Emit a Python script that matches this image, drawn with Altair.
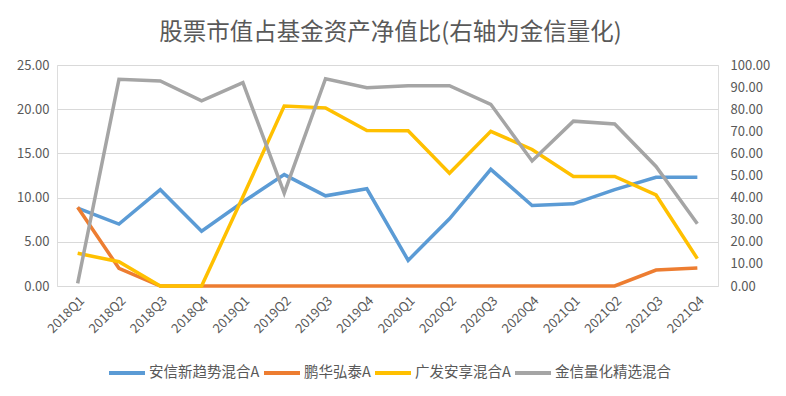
import altair as alt
import pandas as pd

quarters = ["2018Q1", "2018Q2", "2018Q3", "2018Q4", "2019Q1", "2019Q2", "2019Q3", "2019Q4",
            "2020Q1", "2020Q2", "2020Q3", "2020Q4", "2021Q1", "2021Q2", "2021Q3", "2021Q4"]
anxin = [8.8, 7.0, 10.9, 6.2, 9.5, 12.6, 10.2, 11.0, 2.9, 7.6, 13.2, 9.1, 9.3, 10.9, 12.3, 12.3]
penghua = [8.9, 2.0, 0, 0, 0, 0, 0, 0, 0, 0, 0, 0, 0, 0, 1.8, 2.05]
guangfa = [3.7, 2.75, 0, 0, 10.1, 20.35, 20.15, 17.6, 17.55, 12.75, 17.5, 15.45, 12.4, 12.4, 10.3, 3.1]
jinxin = [1.2, 93.5, 92.8, 83.8, 92.0, 42.0, 93.8, 89.7, 90.6, 90.6, 82.2, 56.6, 74.6, 73.3, 54.1, 28.2]

names = ["安信新趋势混合A", "鹏华弘泰A", "广发安享混合A", "金信量化精选混合"]
colors = ["#5B9BD5", "#ED7D31", "#FFC000", "#A5A5A5"]
left_ticks = [0, 5, 10, 15, 20, 25]
right_ticks = [0, 10, 20, 30, 40, 50, 60, 70, 80, 90, 100]

rows = []
for name, vals in zip(names[:3], [anxin, penghua, guangfa]):
    for q, v in zip(quarters, vals):
        rows.append({"quarter": q, "value": v, "series": name})
left_df = pd.DataFrame(rows)
right_df = pd.DataFrame({"quarter": quarters, "value": jinxin, "series": names[3]})

FONT = "Noto Sans CJK SC"
TXT = "#595959"

color = alt.Color(
    "series:N",
    sort=names,
    scale=alt.Scale(domain=names, range=colors),
    legend=alt.Legend(
        title=None, orient="none", legendX=50, legendY=288, direction="horizontal",
        symbolType="stroke", symbolStrokeWidth=4, symbolSize=1296,
        labelFont=FONT, labelFontSize=14.5, labelColor=TXT, labelOffset=2,
        columnPadding=-4, labelLimit=300,
    ),
)

x = alt.X(
    "quarter:N", sort=quarters,
    axis=alt.Axis(title=None, labelAngle=-45, domain=False, ticks=False,
                  labelFont=FONT, labelFontSize=13, labelColor=TXT, labelPadding=8),
)

left = alt.Chart(left_df).mark_line(strokeWidth=3.5).encode(
    x=x,
    y=alt.Y("value:Q", scale=alt.Scale(domain=[0, 25]),
            axis=alt.Axis(title=None, values=left_ticks, format=".2f", grid=True,
                          gridColor="#D9D9D9", domain=False, ticks=False,
                          labelFont=FONT, labelFontSize=13, labelColor=TXT, labelPadding=8)),
    color=color,
    detail="series:N",
)

right = alt.Chart(right_df).mark_line(strokeWidth=3.5).encode(
    x=x,
    y=alt.Y("value:Q", scale=alt.Scale(domain=[0, 100]),
            axis=alt.Axis(title=None, orient="right", values=right_ticks, format=".2f",
                          grid=False, domain=False, ticks=False,
                          labelFont=FONT, labelFontSize=13, labelColor=TXT, labelPadding=12)),
    color=color,
)

chart = alt.layer(left, right).resolve_scale(y="independent").properties(
    width=661, height=221,
    title=alt.Title("股票市值占基金资产净值比(右轴为金信量化)", font=FONT, fontSize=23.5,
                    fontWeight="normal", color=TXT, anchor="middle", offset=15, dx=3),
    autosize=alt.AutoSizeParams(type="none"),
    padding={"left": 49, "top": 57, "right": 60, "bottom": 102},
).configure_view(stroke=None).configure(background="white")

chart.save("out.html", embed_options={"renderer": "svg", "actions": False})
